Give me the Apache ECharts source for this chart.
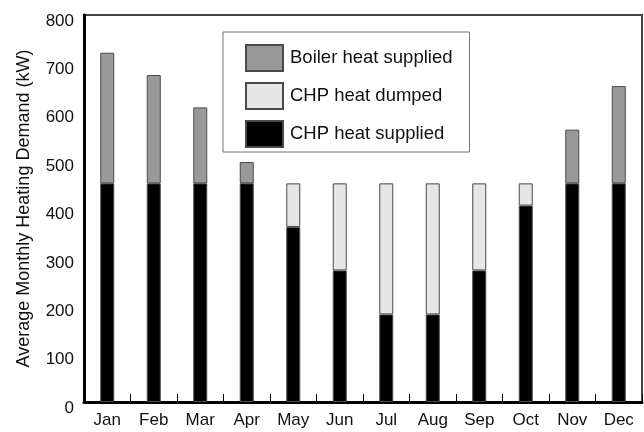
<!DOCTYPE html>
<html>
<head>
<meta charset="utf-8">
<script src="https://cdn.jsdelivr.net/npm/echarts@6/dist/echarts.min.js"></script>
<style>html,body{margin:0;padding:0;background:#fff}#c{width:644px;height:432px}</style>
</head>
<body>
<div id="c"></div>
<script>
const months = ['Jan','Feb','Mar','Apr','May','Jun','Jul','Aug','Sep','Oct','Nov','Dec'];
const chpSupplied = [452,452,452,452,362,272,181,181,272,406,452,452];
const chpDumped = [null,null,null,null,90,180,271,271,180,46,null,null];
const boilerSupplied = [270,224,157,44,null,null,null,null,null,null,111,201];
const yTicks = [0,100,200,300,400,500,600,700,800];

const FONT = 'Liberation Sans';
const chart = echarts.init(document.getElementById('c'), null, {renderer:'canvas'});
const barStyle = (color) => ({color: color, borderColor: '#4a4a4a', borderWidth: 1});
chart.setOption({
  animation: false,
  backgroundColor: '#fff',
  grid: {left: 84, right: 2, top: 15, bottom: 30, show: true, borderColor: '#444', borderWidth: 2, backgroundColor: 'transparent'},
  legend: {
    left: 223, top: 32, orient: 'vertical', icon: 'rect',
    data: ['Boiler heat supplied','CHP heat dumped','CHP heat supplied'],
    itemWidth: 37, itemHeight: 26, itemGap: 10,
    padding: [12, 17, 4, 22],
    borderColor: '#777', borderWidth: 1, borderRadius: 0,
    textStyle: {fontFamily: FONT, fontSize: 18.5, color: '#111', padding: [0,0,0,2]},
    backgroundColor: '#fff'
  },
  xAxis: {
    type: 'category', data: months,
    axisLine: {lineStyle: {color: '#000', width: 3}},
    axisTick: {show: true, inside: true, length: 8, lineStyle: {color: '#000', width: 1}},
    axisLabel: {fontFamily: FONT, fontSize: 17, color: '#111', margin: 10}
  },
  yAxis: {
    type: 'value', min: 0, max: 800, interval: 100,
    name: 'Average Monthly Heating Demand (kW)', nameLocation: 'middle', nameGap: 51,
    nameTextStyle: {fontFamily: FONT, fontSize: 18, color: '#111'},
    axisLine: {show: true, lineStyle: {color: '#000', width: 3}},
    axisTick: {show: false},
    splitLine: {show: false},
    axisLabel: {fontFamily: FONT, fontSize: 17, color: '#111', margin: 10, verticalAlign: 'top', lineHeight: 12,
      formatter: v => yTicks.includes(v) ? String(v) : ''}
  },
  series: [
    {name: 'CHP heat supplied', type: 'bar', stack: 'a', data: chpSupplied, barWidth: 14, itemStyle: barStyle('#000')},
    {name: 'CHP heat dumped', type: 'bar', stack: 'a', data: chpDumped, barWidth: 14, itemStyle: barStyle('#e6e6e8')},
    {name: 'Boiler heat supplied', type: 'bar', stack: 'a', data: boilerSupplied, barWidth: 14, itemStyle: barStyle('#999999')}
  ]
});
</script>
</body>
</html>
